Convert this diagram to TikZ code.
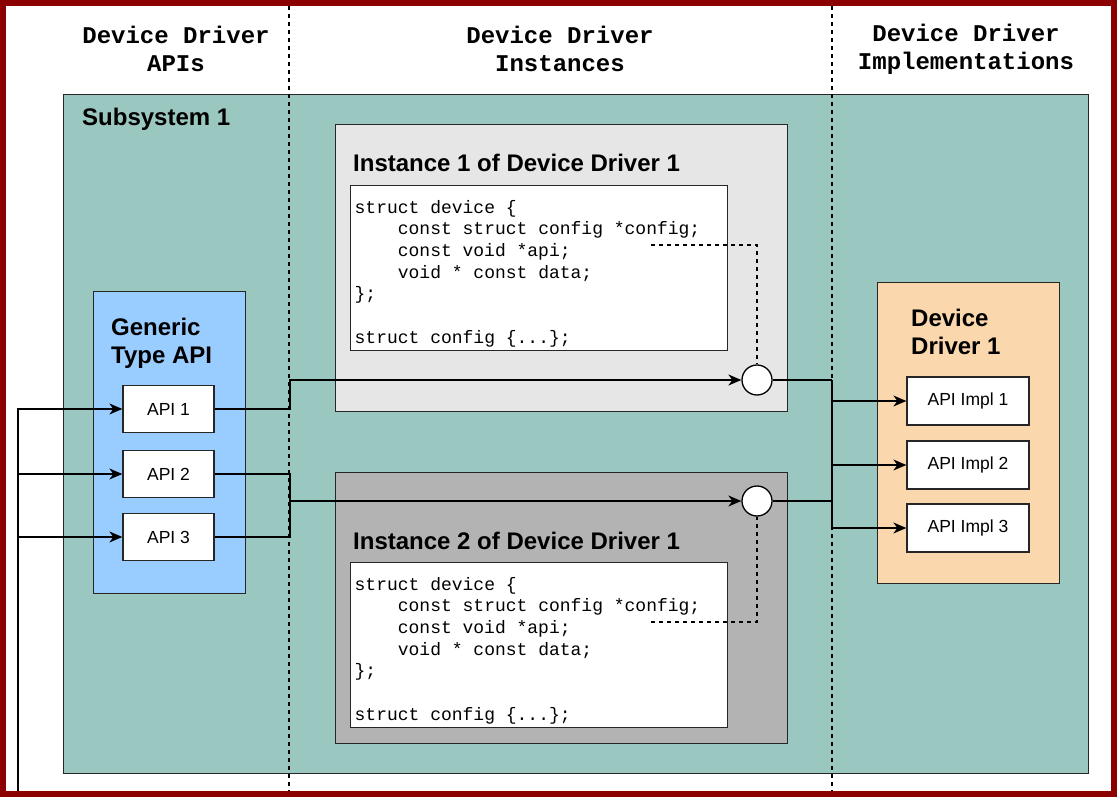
\documentclass[tikz,border=0pt]{standalone}
\usepackage{fontspec}
\setmainfont{Liberation Sans}
\setmonofont{Liberation Mono}
\usetikzlibrary{arrows.meta}
\definecolor{framered}{RGB}{139,0,0}
\definecolor{subteal}{RGB}{154,199,191}
\definecolor{apiblue}{RGB}{153,204,255}
\definecolor{drvorange}{RGB}{250,215,172}
\definecolor{instlight}{RGB}{230,230,230}
\definecolor{instdark}{RGB}{179,179,179}
\newcommand\codeindent{\hspace*{2.4em}}
\newcommand\codetop{\spaceskip=0.6em\relax\rule{0pt}{24pt}}
\newcommand\headspace{\spaceskip=0.6em\relax}
\begin{document}
\begin{tikzpicture}[x=1pt,y=-1pt,
  box/.style={draw=black!85, line width=1.3pt, anchor=north west, inner sep=0pt},
  head/.style={align=center, font=\ttfamily\bfseries\fontsize{24}{28}\selectfont},
  title/.style={align=left, anchor=north west, inner sep=0pt, font=\bfseries\fontsize{24}{28}\selectfont},
  item/.style={draw=black!85, line width=1.3pt, fill=white, inner sep=0pt, font=\fontsize{17.5}{21}\selectfont},
  code/.style={draw=black!85, line width=1.3pt, fill=white, anchor=north west, text width=369pt, inner xsep=4pt, inner ysep=0pt, minimum height=165pt, align=left, font=\ttfamily\fontsize{18}{21.67}\selectfont},
  port/.style={circle, draw=black, line width=1.3pt, fill=white, minimum size=30pt, inner sep=0pt},
  sep/.style={draw=black, line width=1.2pt, dash pattern=on 4pt off 4pt},
  link/.style={draw=black, line width=1.3pt},
  arr/.style={link, -{Stealth[length=13pt, width=11pt, inset=4pt]}}]
  \useasboundingbox (0,0) rectangle (1117,797);
  \fill[white] (0,0) rectangle (1117,797);
  \node[box, fill=subteal, minimum width=1025pt, minimum height=679pt] (sub) at (63,94) {};
  \draw[sep] (289,6) -- (289,791);
  \draw[sep] (832,6) -- (832,791);
  \node[head] (hdapi) at (176,49) {\headspace Device Driver\\APIs};
  \node[head] (hdinst) at (560,49) {\headspace Device Driver\\Instances};
  \node[head] (hdimpl) at (966,49) {\headspace Device Driver\\Implementations};
  \node[title, anchor=west] (subname) at (82,119) {Subsystem 1};

  \node[box, fill=apiblue, minimum width=152pt, minimum height=302pt] (gen) at (93,291) {};
  \node[title] (genname) at (111,318) {Generic\\Type API};
  \foreach \i/\y in {1/409, 2/474, 3/537} {
    \node[item, minimum width=91pt, minimum height=47pt] (api\i) at (168.5,\y) {API \i};
  }

  \node[box, fill=instlight, minimum width=452pt, minimum height=287pt] (inst1) at (335,124) {};
  \node[title, anchor=west] (inst1name) at (353,163) {Instance 1 of Device Driver 1};
  \node[code] (code1) at (350,185) {\codetop struct device \{\\
    \codeindent const struct config *config;\\
    \codeindent const void *api;\\
    \codeindent void * const data;\\
    \};\\[21.67pt]
    struct config \{...\};};

  \node[box, fill=instdark, minimum width=452pt, minimum height=271pt] (inst2) at (335,472) {};
  \node[title, anchor=west] (inst2name) at (353,541) {Instance 2 of Device Driver 1};
  \node[code] (code2) at (350,562) {\codetop struct device \{\\
    \codeindent const struct config *config;\\
    \codeindent const void *api;\\
    \codeindent void * const data;\\
    \};\\[21.67pt]
    struct config \{...\};};

  \node[box, fill=drvorange, minimum width=182pt, minimum height=301pt] (drv) at (877,282) {};
  \node[title] (drvname) at (911,309) {Device\\Driver 1};
  \foreach \i/\y in {1/401, 2/465, 3/528} {
    \node[item, minimum width=122pt, minimum height=48pt] (impl\i) at (968,\y) {API Impl \i};
  }

  \node[port] (port1) at (757,380) {};
  \node[port] (port2) at (757,501) {};

  \coordinate (bus) at (18,792);
  \coordinate (busl) at (290,380);
  \coordinate (busl2) at (290,501);
  \coordinate (busr) at (832,380);
  \coordinate (busr2) at (832,501);
  \coordinate (cfg1) at (651,245);
  \coordinate (cfg2) at (651,622);

  \foreach \i in {1,2,3} { \draw[arr] (bus) |- (api\i.west); }
  \draw[arr] (api1.east) -| (busl) -- (port1.west);
  \draw[arr] (api2.east) -| (busl2) -- (port2.west);
  \draw[link] (api3.east) -| (busl2);
  \draw[link] (port1.east) -- (busr);
  \draw[link] (port2.east) -- (busr2);
  \foreach \i in {1,2,3} { \draw[arr] (busr) |- (impl\i.west); }
  \draw[sep] (cfg1) -| (port1.north);
  \draw[sep] (cfg2) -| (port2.south);

  \draw[framered, line width=6pt] (3,3) rectangle (1114,794);
\end{tikzpicture}
\end{document}
